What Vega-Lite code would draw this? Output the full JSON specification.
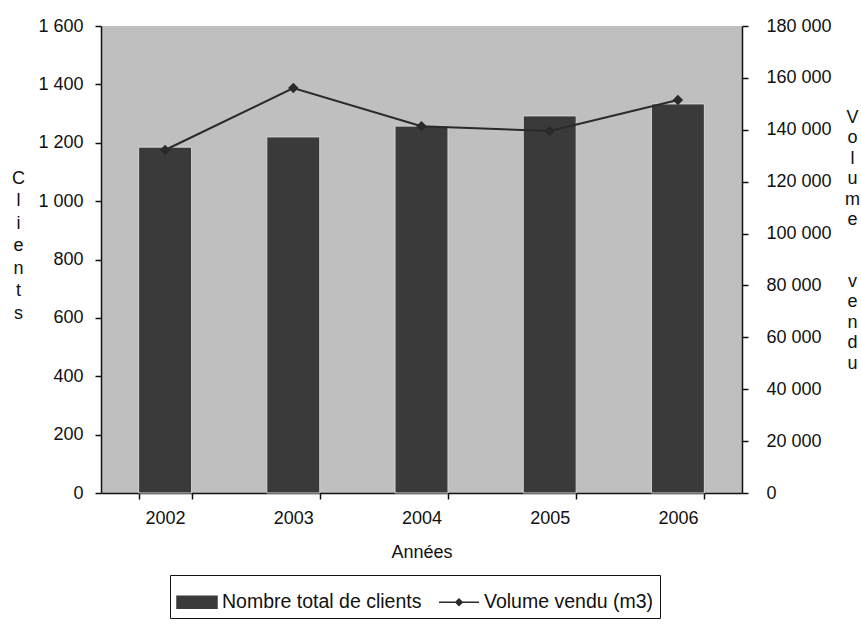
{
  "$schema": "https://vega.github.io/schema/vega-lite/v6.json",
  "autosize": {"type": "none"},
  "width": 641,
  "height": 467,
  "padding": {"left": 101, "top": 26, "right": 119, "bottom": 133},
  "background": "white",
  "config": {
    "view": {"fill": "#bfbfbf", "stroke": null},
    "font": "Liberation Sans",
    "axis": {
      "labelFont": "Liberation Sans",
      "labelFontSize": 18,
      "labelColor": "#111",
      "titleFont": "Liberation Sans",
      "titleFontSize": 18,
      "titleFontWeight": "normal",
      "titleColor": "#111",
      "domainColor": "#111",
      "domainWidth": 1.5,
      "tickColor": "#111",
      "tickWidth": 1.5,
      "tickSize": 6,
      "grid": false
    },
    "legend": {
      "labelFont": "Liberation Sans",
      "labelFontSize": 19.5,
      "labelColor": "#111",
      "labelLimit": 400
    }
  },
  "data": {
    "values": [
      {"annee": "2002", "clients": 1185, "volume": 132200},
      {"annee": "2003", "clients": 1220, "volume": 156100},
      {"annee": "2004", "clients": 1257, "volume": 141400},
      {"annee": "2005", "clients": 1292, "volume": 139500},
      {"annee": "2006", "clients": 1333, "volume": 151500}
    ]
  },
  "encoding": {
    "x": {
      "field": "annee",
      "type": "nominal",
      "scale": {"paddingInner": 0.587, "paddingOuter": 0.2935},
      "axis": {
        "title": "Années",
        "labelAngle": 0,
        "tickBand": "extent",
        "labelPadding": 10,
        "titlePadding": 16
      }
    }
  },
  "layer": [
    {
      "mark": {"type": "bar", "stroke": "#d4d4d4", "strokeWidth": 1},
      "encoding": {
        "y": {
          "field": "clients",
          "type": "quantitative",
          "scale": {"domain": [0, 1600], "nice": false},
          "axis": {
            "values": [0, 200, 400, 600, 800, 1000, 1200, 1400, 1600],
            "labelExpr": "replace(format(datum.value, ','), ',', ' ')",
            "labelPadding": 12,
            "title": ["C", "l", "i", "e", "n", "t", "s"],
            "titleAngle": 0,
            "titleAlign": "center",
            "titleBaseline": "middle",
            "titleLineHeight": 22.5,
            "titleX": -83,
            "titleY": 152
          }
        },
        "color": {
          "datum": "Nombre total de clients",
          "type": "nominal",
          "scale": {
            "domain": ["Nombre total de clients", "Volume vendu (m3)"],
            "range": ["#3a3a3a", "#2a2a2a"]
          },
          "legend": {
            "title": null,
            "orient": "none",
            "legendX": 69,
            "legendY": 549,
            "direction": "horizontal",
            "strokeColor": "#111",
            "fillColor": "white",
            "padding": 6,
            "symbolSize": 1600,
            "symbolStrokeColor": "#111",
            "symbolStrokeWidth": 1.5,
            "columnPadding": 14,
            "labelOffset": 4,
            "labelLimit": 400
          }
        }
      }
    },
    {
      "encoding": {
        "y": {
          "field": "volume",
          "type": "quantitative",
          "scale": {"domain": [0, 180000], "nice": false},
          "axis": {
            "orient": "right",
            "values": [0, 20000, 40000, 60000, 80000, 100000, 120000, 140000, 160000, 180000],
            "labelExpr": "replace(format(datum.value, ','), ',', ' ')",
            "labelPadding": 18,
            "title": ["V", "o", "l", "u", "m", "e", "\u200b", "\u200b", "v", "e", "n", "d", "u"],
            "titleAngle": 0,
            "titleAlign": "center",
            "titleBaseline": "middle",
            "titleLineHeight": 20.5,
            "titleX": 110,
            "titleY": 91
          }
        },
        "color": {"datum": "Volume vendu (m3)", "type": "nominal"}
      },
      "layer": [
        {"mark": {"type": "line", "strokeWidth": 2}},
        {"mark": {"type": "point", "filled": true, "size": 110, "opacity": 1, "shape": "diamond"}},
        {
          "mark": {"type": "point", "filled": true, "size": 0, "opacity": 1},
          "encoding": {
            "shape": {
              "datum": "Volume vendu (m3)",
              "type": "nominal",
              "scale": {
                "domain": ["Nombre total de clients", "Volume vendu (m3)"],
                "range": ["M-1,-0.3H1V0.3H-1Z", "M-1,0H1M0,-0.16L0.16,0L0,0.16L-0.16,0Z"]
              },
              "legend": {"title": null}
            }
          }
        }
      ]
    }
  ],
  "resolve": {"scale": {"y": "independent"}}
}
